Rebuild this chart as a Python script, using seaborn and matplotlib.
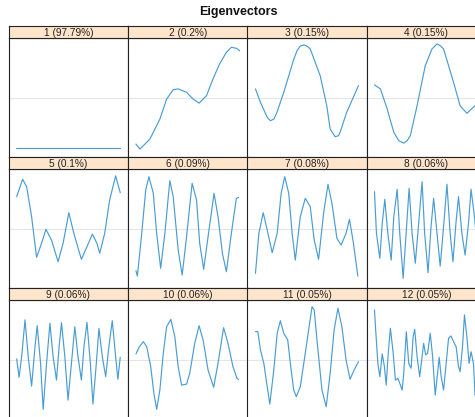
import numpy as np
import pandas as pd
import matplotlib
matplotlib.use('Agg')
import matplotlib.pyplot as plt
import seaborn as sns

# Eigenvector loadings, one (lags, values) pair per component
labels = ['1 (97.79%)', '2 (0.2%)', '3 (0.15%)', '4 (0.15%)',
          '5 (0.1%)', '6 (0.09%)', '7 (0.08%)', '8 (0.06%)',
          '9 (0.06%)', '10 (0.06%)', '11 (0.05%)', '12 (0.05%)']

lag_1 = [1, 53]
val_1 = [-0.253, -0.253]

lag_2 = [1, 3, 8, 13, 16.4, 19.7, 22.2, 26.4, 29.7, 32.7, 36.4, 39.7, 43, 46.4, 48.9, 51.4, 53]
val_2 = [-0.233, -0.258, -0.208, -0.108, -0.008, 0.039, 0.043, 0.026, -0.008, -0.028,
         0.009, 0.093, 0.168, 0.226, 0.251, 0.246, 0.234]

lag_3 = [1, 3.5, 6.9, 8.5, 10.2, 11.8, 15.2, 20.2, 21.9, 23.5, 25.2, 26.9, 28.5,
         33.5, 36.8, 38.5, 41, 42.7, 43.5, 46.8, 52.7]
val_3 = [0.043, -0.024, -0.099, -0.116, -0.108, -0.074, 0.026, 0.19, 0.235, 0.257,
         0.263, 0.257, 0.243, 0.109, -0.041, -0.158, -0.196, -0.191, -0.174, -0.074, 0.059]

lag_4 = [1, 4, 7.4, 10.7, 13.2, 15.7, 17.4, 19, 22.4, 26.5, 29.9, 32.4, 34, 35.7,
         40.7, 44, 47.4, 51.5, 53]
val_4 = [0.063, 0.043, -0.058, -0.174, -0.216, -0.228, -0.216, -0.191, -0.041, 0.159,
         0.243, 0.268, 0.259, 0.243, 0.076, -0.041, -0.079, -0.041, -0.015]

lag_5 = [1.1, 4.1, 6.1, 8.6, 11.1, 13.6, 15.8, 18.6, 21.9, 24.4, 27.3, 29.8, 33.6,
         36.4, 39.1, 41.4, 42.8, 45.3, 47.8, 50.8, 53.1]
val_5 = [0.159, 0.246, 0.209, 0.059, -0.144, -0.074, -0.004, -0.058, -0.166, -0.074,
         0.079, -0.024, -0.154, -0.091, -0.028, -0.074, -0.124, -0.024, 0.143, 0.263, 0.179]

lag_6 = [1, 1.7, 3.9, 5.9, 7.5, 9.7, 11.4, 13.4, 15.5, 18, 19.7, 22.2, 24.2, 26.4,
         29.2, 31.4, 33, 35, 37.2, 40.2, 42.2, 44.4, 46.4, 48.9, 51.4, 52.5]
val_6 = [-0.211, -0.238, -0.024, 0.193, 0.259, 0.176, -0.024, -0.199, -0.024, 0.239,
         0.159, -0.108, -0.233, -0.041, 0.226, 0.143, -0.074, -0.204, -0.041, 0.176,
         0.059, -0.124, -0.216, -0.024, 0.151, 0.155]

lag_7 = [1, 2.7, 4.9, 6.9, 9.4, 11.9, 13.9, 15.7, 17.7, 19.4, 21, 23.5, 26, 28.5,
         30.5, 32.7, 35.2, 37.4, 39.4, 41.9, 44, 46.5, 48.2, 50.2, 52.4]
val_7 = [-0.224, -0.024, 0.079, -0.008, -0.121, -0.024, 0.176, 0.259, 0.176, -0.024,
         -0.158, 0.059, 0.151, 0.109, -0.058, -0.154, 0.076, 0.221, 0.126, -0.049,
         -0.083, -0.024, 0.046, -0.074, -0.238]

lag_8 = [1, 2, 3.7, 4.9, 6.2, 7.7, 9.4, 10.7, 12.4, 13.7, 15.4, 16.9, 18.4, 19.9,
         21.5, 23.2, 24.9, 26.2, 27.9, 29.4, 30.7, 32.4, 34, 35.7, 37.4, 39, 40.4,
         41.9, 43.2, 44.9, 46.5, 48.2, 49.5, 51.2, 52.5]
val_8 = [0.184, -0.024, -0.149, 0.026, 0.146, -0.024, -0.158, 0.059, 0.196, -0.024,
         -0.249, -0.024, 0.201, -0.024, -0.174, 0.026, 0.234, -0.024, -0.221, 0.009,
         0.151, -0.024, -0.188, 0.009, 0.221, -0.024, -0.166, 0.026, 0.159, -0.024,
         -0.133, 0.026, 0.196, 0.059, -0.075]

lag_9 = [1.1, 2.3, 3.6, 5.3, 6.9, 8.6, 10.3, 11.4, 13.1, 14.4, 16.1, 17.8, 19.4,
         21.1, 22.4, 23.6, 25.3, 26.9, 28.6, 30.3, 31.9, 33.6, 34.9, 36.4, 38.1,
         39.4, 41.1, 42.4, 44.1, 45.8, 47.4, 49.1, 50.8, 51.9, 53.1]
val_9 = [0.003, -0.089, 0.014, 0.198, 0.014, -0.133, 0.064, 0.169, -0.019, -0.249,
         -0.019, 0.181, 0.014, -0.103, 0.064, 0.184, 0.014, -0.203, -0.019, 0.164,
         0.014, -0.103, 0.064, 0.186, -0.019, -0.223, -0.019, 0.156, 0.014, -0.086,
         0.064, 0.194, 0.014, -0.099, 0.011]

lag_10 = [1, 2.7, 4.7, 6.4, 8.4, 10, 11.4, 13, 14.7, 16.4, 18.5, 20.5, 22.2, 23.9,
          26.4, 28, 30.5, 32.7, 34.7, 37.2, 40, 42.2, 45, 47.2, 49.7, 51.7, 52.5]
val_10 = [0.028, 0.064, 0.089, 0.064, -0.036, -0.169, -0.249, -0.153, 0.031, 0.164,
          0.201, 0.114, -0.036, -0.128, -0.123, -0.069, 0.081, 0.169, 0.098, -0.053,
          -0.139, -0.019, 0.159, 0.081, -0.036, -0.094, -0.1]

lag_11 = [1, 2.2, 3.5, 5.2, 6.9, 8.2, 10.2, 11.9, 13.5, 15.2, 17.2, 18.5, 20.2,
          21.5, 23.5, 26, 27.7, 29.4, 30.5, 32.2, 34.4, 36.5, 38.5, 40.5, 42.4,
          44.4, 46.5, 48.5, 50.5, 52.7]
val_11 = [0.139, 0.139, 0.048, -0.019, -0.136, -0.223, -0.053, 0.131, 0.194, 0.131,
          0.098, -0.019, -0.153, -0.186, -0.136, 0.031, 0.148, 0.264, 0.248, 0.064,
          -0.153, -0.236, -0.069, 0.148, 0.256, 0.164, -0.003, -0.099, -0.053, -0.011]

lag_12 = [1, 1.5, 2.7, 3.7, 4.9, 6, 6.9, 7.9, 9, 10.4, 11.5, 12.7, 13.7, 14.9,
          15.7, 17, 18.2, 19.4, 20.4, 21.2, 22.4, 23.7, 24.9, 25.7, 26.7, 27.7,
          29, 30.2, 31.5, 32.7, 33.5, 34.5, 35.7, 37, 38.2, 39.4, 40.7, 42, 43.2,
          44, 45.2, 46.2, 47.4, 48.5, 49.5, 50.7, 51.5, 53]
val_12 = [0.248, 0.164, -0.019, -0.086, 0.028, -0.036, -0.128, 0.031, 0.156, 0.031,
          -0.103, -0.094, -0.119, -0.153, -0.069, 0.139, -0.019, -0.044, 0.114, 0.151,
          0.014, -0.086, 0.014, 0.081, 0.023, 0.031, 0.131, 0.014, -0.178, -0.069,
          0.011, -0.086, -0.153, -0.019, 0.106, 0.118, 0.089, 0.064, -0.036, -0.061,
          0.064, 0.223, 0.114, -0.019, 0.039, -0.019, -0.178, -0.15]

lags = [lag_1, lag_2, lag_3, lag_4, lag_5, lag_6, lag_7, lag_8, lag_9, lag_10, lag_11, lag_12]
vals = [val_1, val_2, val_3, val_4, val_5, val_6, val_7, val_8, val_9, val_10, val_11, val_12]

frames = [pd.DataFrame({'component': lab, 'lag': lg, 'value': v})
          for lab, lg, v in zip(labels, lags, vals)]
df = pd.concat(frames, ignore_index=True)

sns.set_theme(style='white')
plt.rcParams['font.family'] = ['Liberation Sans', 'DejaVu Sans']

W, H = 475, 417
g = sns.FacetGrid(df, col='component', col_wrap=4, col_order=labels,
                  sharex=True, sharey=True, despine=False)
g.map_dataframe(sns.lineplot, x='lag', y='value', estimator=None, sort=False,
                color='#4a9dd2', linewidth=0.85)
fig = g.figure
fig.set_size_inches(W / 100, H / 100)

# lattice-like layout in pixels
col_left = [8.5, 128, 247.5, 366.5]
panel_w = 119.5
strip_h = 12
panel_h = 119
row_top = [26, 157, 288]

for i, ax in enumerate(g.axes.flat):
    r, c = divmod(i, 4)
    top = row_top[r] + strip_h
    ax.set_position([col_left[c] / W, 1 - (top + panel_h) / H, panel_w / W, panel_h / H])
    ax.set_xlim(-3.0, 57.0)
    ax.set_ylim(-0.2975, 0.2975)
    ax.axhline(0, color='#e6e6e6', linewidth=0.8, zorder=0)
    ax.set_xticks([])
    ax.set_yticks([])
    ax.set_xlabel('')
    ax.set_ylabel('')
    ax.set_title('')
    for s in ax.spines.values():
        s.set_color('#222222')
        s.set_linewidth(0.8)
    # strip above the panel
    sax = fig.add_axes([col_left[c] / W, 1 - (row_top[r] + strip_h) / H,
                        panel_w / W, strip_h / H])
    sax.set_facecolor('#ffe5cc')
    sax.set_xticks([])
    sax.set_yticks([])
    for s in sax.spines.values():
        s.set_color('#222222')
        s.set_linewidth(0.8)
    sax.text(0.5, 0.45, labels[i], ha='center', va='center', fontsize=7.3,
             color='#222222', transform=sax.transAxes)

fig.text(238 / W, 1 - 12 / H, 'Eigenvectors', ha='center', va='center',
         fontsize=9, fontweight='bold', color='#111111')

fig.savefig('out.png', dpi=100)
